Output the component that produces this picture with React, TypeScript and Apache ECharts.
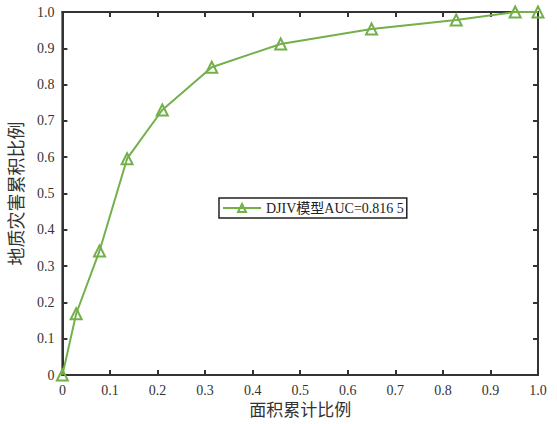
import React, { useEffect, useRef } from "react";
import * as echarts from "echarts";

const seriesName = "DJIV模型AUC=0.816 5";
const xValues = [0, 0.029, 0.078, 0.136, 0.21, 0.314, 0.459, 0.65, 0.828, 0.952, 1.0];
const yValues = [0, 0.169, 0.342, 0.596, 0.73, 0.848, 0.912, 0.953, 0.978, 1.0, 1.0];
const xAxisTitle = "面积累计比例";
const yAxisTitle = "地质灾害累积比例";

const FONT = "'Liberation Serif', 'Noto Sans CJK SC', serif";
const GREEN = "#74b04a";
const AXIS = "#333";

const fmt = (v: number) => (v === 0 ? "0" : v.toFixed(1));

export default function App() {
  const ref = useRef<HTMLDivElement>(null);
  useEffect(() => {
    if (!ref.current) return;
    const chart = echarts.init(ref.current, undefined, { renderer: "svg" });
    const mkAxis = (pos: string, extra: any) => ({
      type: "value",
      min: 0,
      max: 1,
      interval: 0.1,
      position: pos,
      splitLine: { show: false },
      axisLine: { show: true, onZero: false, lineStyle: { color: AXIS, width: 2 } },
      axisTick: { show: true, inside: true, length: 5, lineStyle: { color: AXIS, width: 2 } },
      ...extra,
    });
    chart.setOption({
      animation: false,
      backgroundColor: "#fff",
      grid: {
        left: 61,
        right: 19,
        top: 12,
        bottom: 46,
        containLabel: false,
        show: true,
        borderColor: AXIS,
        borderWidth: 2,
        backgroundColor: "rgba(0,0,0,0)",
      },
      legend: {
        show: true,
        left: 219,
        top: 198,
        orient: "horizontal",
        borderColor: "#222",
        borderWidth: 1.5,
        borderRadius: 0,
        backgroundColor: "#fff",
        padding: [3, 3, 3, 3],
        itemWidth: 38,
        itemHeight: 10,
        itemGap: 2,
        textStyle: { fontFamily: FONT, fontSize: 14, color: "#222" },
        data: [seriesName],
      },
      xAxis: [
        mkAxis("bottom", {
          name: xAxisTitle,
          nameLocation: "middle",
          nameGap: 24,
          nameTextStyle: { fontFamily: FONT, fontSize: 17, color: "#333" },
          axisLabel: { formatter: fmt, fontFamily: FONT, fontSize: 14, color: "#333", margin: 8 },
        }),
        mkAxis("top", { axisLabel: { show: false } }),
      ],
      yAxis: [
        mkAxis("left", {
          name: yAxisTitle,
          nameLocation: "middle",
          nameGap: 33,
          nameTextStyle: { fontFamily: FONT, fontSize: 18, color: "#333" },
          axisLabel: { formatter: fmt, fontFamily: FONT, fontSize: 14, color: "#333", margin: 8 },
        }),
        mkAxis("right", { axisLabel: { show: false } }),
      ],
      series: [
        {
          name: seriesName,
          type: "line",
          xAxisIndex: 0,
          yAxisIndex: 0,
          data: xValues.map((x, i) => [x, yValues[i]]),
          symbol: "triangle",
          symbolSize: 11,
          showAllSymbol: true,
          clip: false,
          lineStyle: { color: GREEN, width: 2 },
          itemStyle: { color: "rgba(255,255,255,0)", borderColor: GREEN, borderWidth: 2 },
        },
      ],
    });
    return () => chart.dispose();
  }, []);
  return (
    <div
      ref={ref}
      style={{ position: "fixed", left: 0, top: 0, width: 557, height: 424 }}
    />
  );
}
